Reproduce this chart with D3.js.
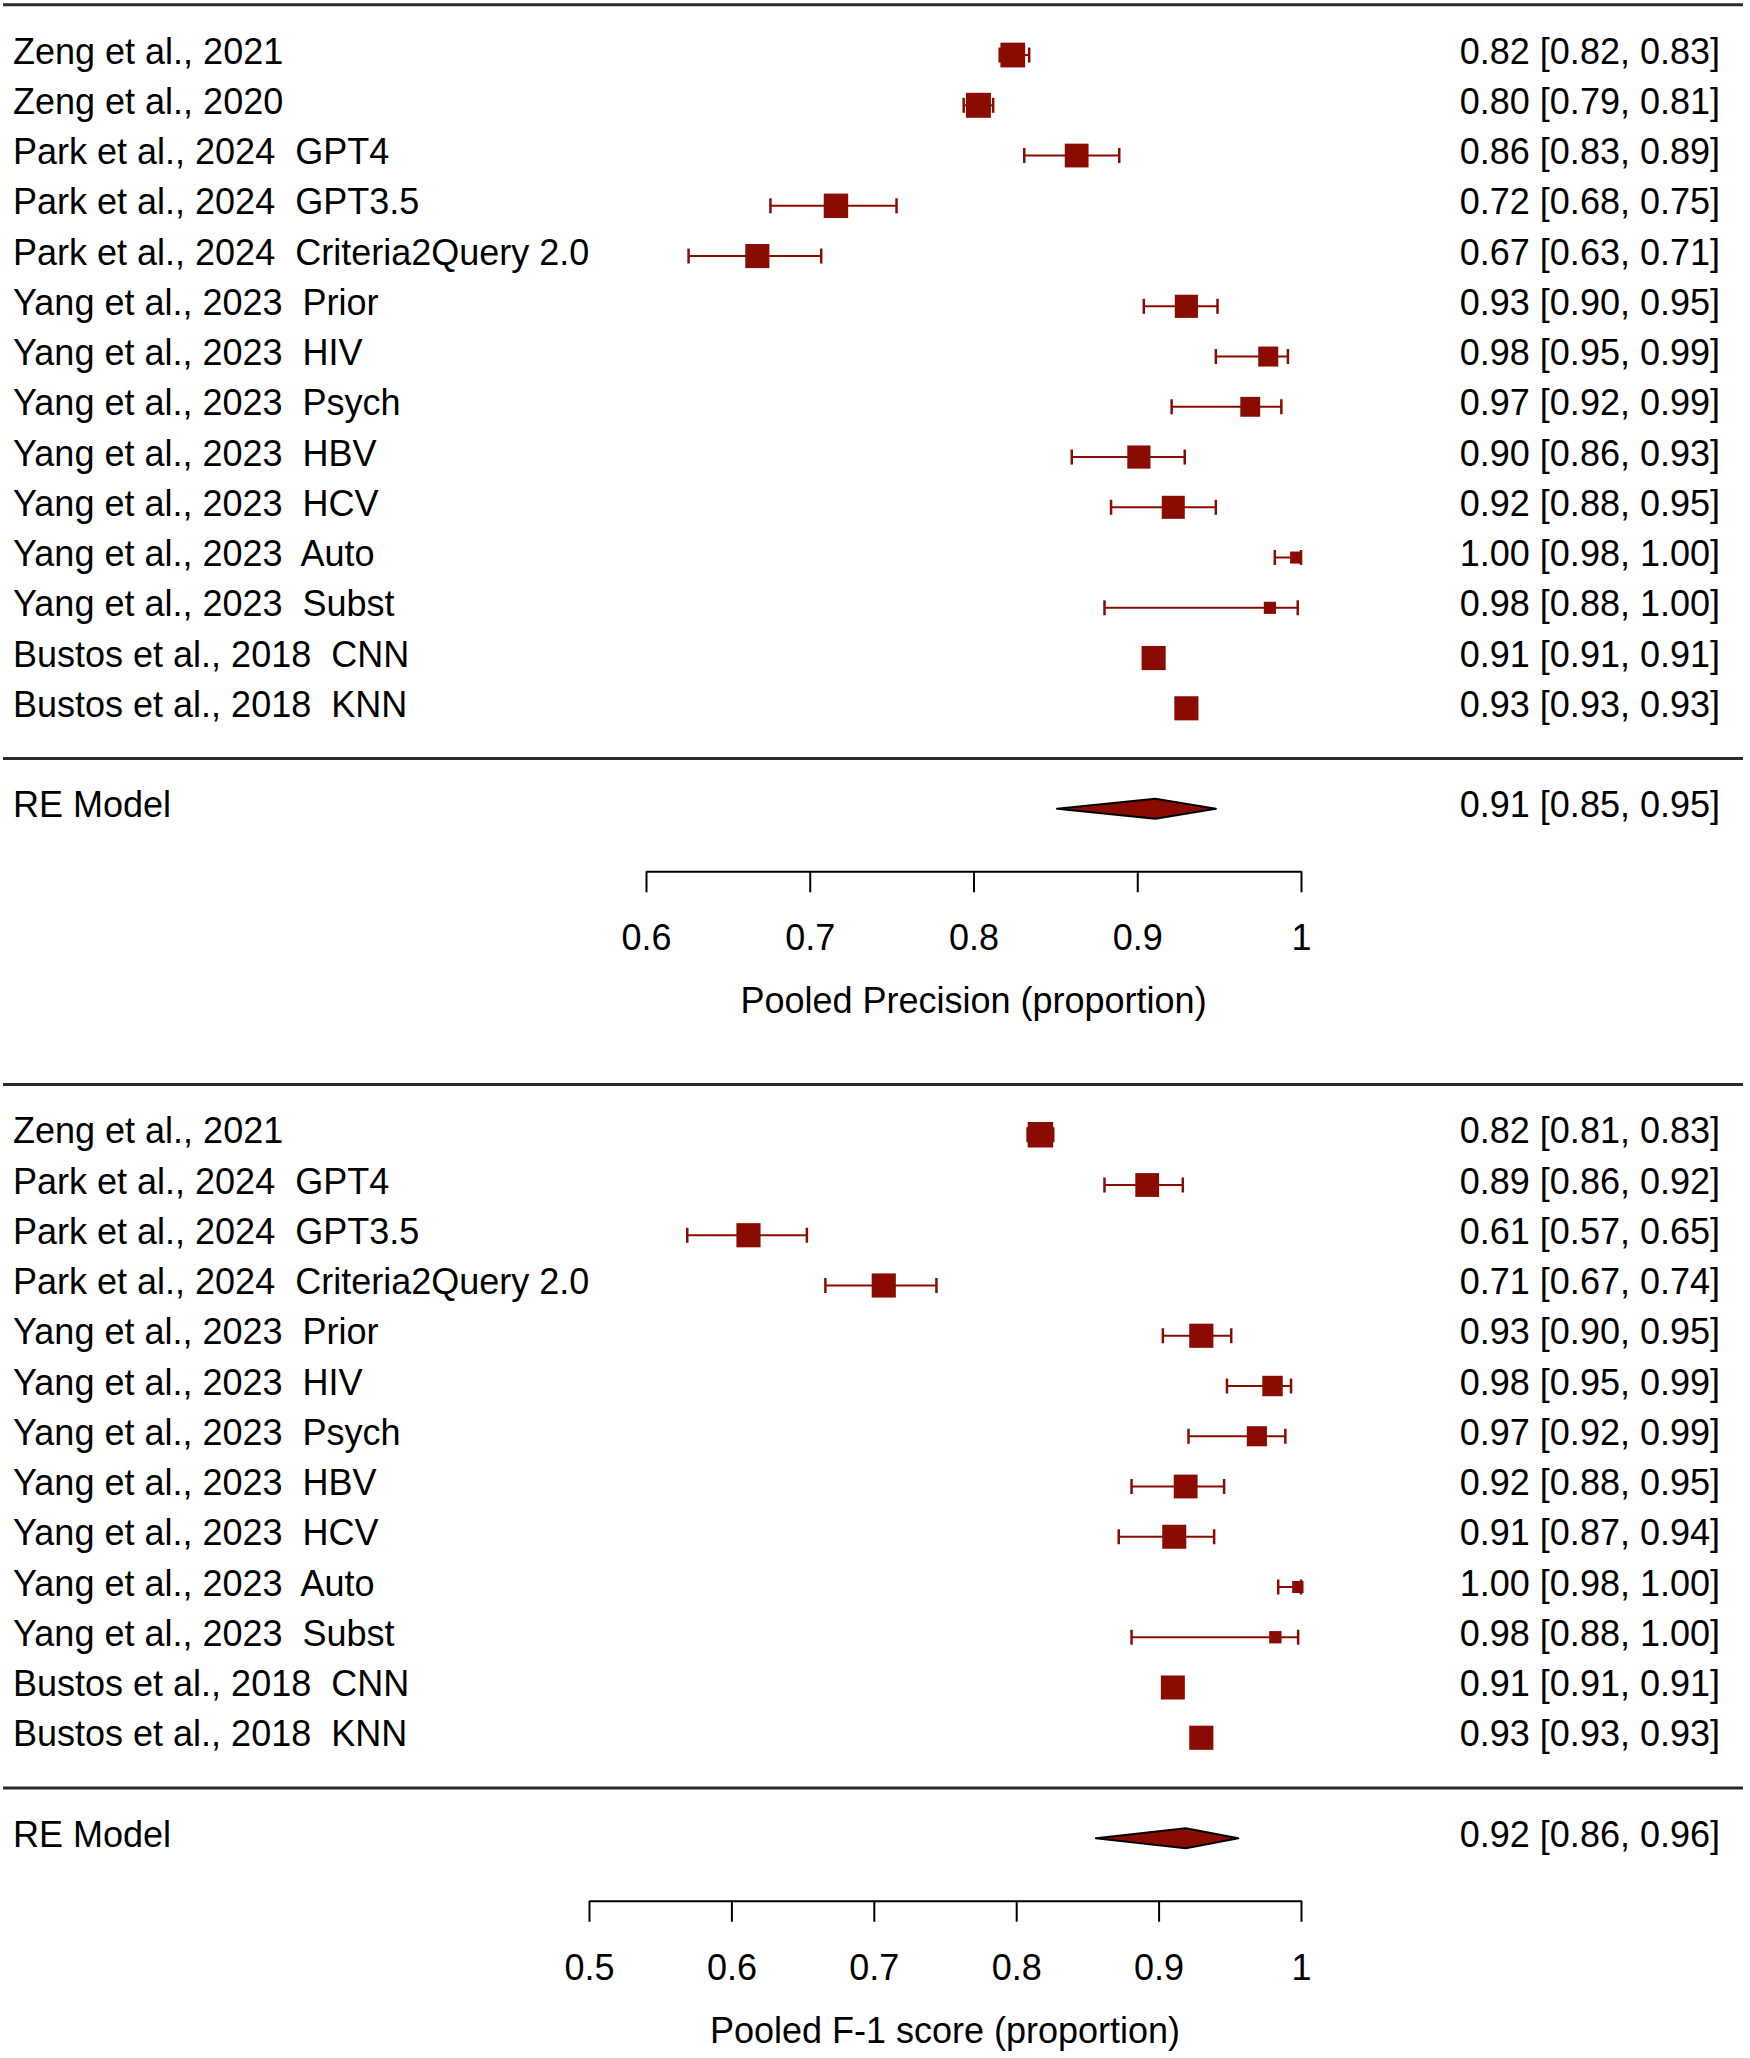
<!DOCTYPE html>
<html>
<head>
<meta charset="utf-8">
<script src="https://cdn.jsdelivr.net/npm/d3@7"></script>
<style>
  body { margin: 0; background: #fff; }
  svg text { font-family: "Liberation Sans", Arial, Helvetica, sans-serif; fill: #000; }
</style>
</head>
<body>
<script>
// ---- panel 1: precision ----
var studies1 = ["Zeng et al., 2021", "Zeng et al., 2020", "Park et al., 2024  GPT4", "Park et al., 2024  GPT3.5",
    "Park et al., 2024  Criteria2Query 2.0", "Yang et al., 2023  Prior", "Yang et al., 2023  HIV",
    "Yang et al., 2023  Psych", "Yang et al., 2023  HBV", "Yang et al., 2023  HCV", "Yang et al., 2023  Auto",
    "Yang et al., 2023  Subst", "Bustos et al., 2018  CNN", "Bustos et al., 2018  KNN"];
var est1 = [0.824, 0.803, 0.863, 0.716, 0.668, 0.930, 0.980, 0.969, 0.901, 0.922, 0.997, 0.981, 0.910, 0.930];
var lo1  = [0.816, 0.794, 0.831, 0.676, 0.626, 0.904, 0.948, 0.921, 0.860, 0.884, 0.984, 0.880, 0.907, 0.927];
var hi1  = [0.834, 0.812, 0.889, 0.753, 0.707, 0.949, 0.992, 0.988, 0.929, 0.948, 1.000, 0.998, 0.913, 0.933];
var weights1 = [7.55, 7.59, 7.40, 7.50, 7.45, 7.30, 6.80, 6.78, 7.30, 7.28, 5.53, 5.55, 7.45, 7.45];
var pooled1 = {est: 0.911, lo: 0.851, hi: 0.948};
var ticks1 = [0.6, 0.7, 0.8, 0.9, 1];
var xlabel1 = "Pooled Precision (proportion)";

// ---- panel 2: F-1 score ----
var studies2 = ["Zeng et al., 2021", "Park et al., 2024  GPT4", "Park et al., 2024  GPT3.5",
    "Park et al., 2024  Criteria2Query 2.0", "Yang et al., 2023  Prior", "Yang et al., 2023  HIV",
    "Yang et al., 2023  Psych", "Yang et al., 2023  HBV", "Yang et al., 2023  HCV", "Yang et al., 2023  Auto",
    "Yang et al., 2023  Subst", "Bustos et al., 2018  CNN", "Bustos et al., 2018  KNN"];
var est2 = [0.817, 0.892, 0.612, 0.707, 0.930, 0.980, 0.969, 0.919, 0.911, 0.998, 0.982, 0.910, 0.930];
var lo2  = [0.808, 0.862, 0.569, 0.666, 0.903, 0.948, 0.921, 0.881, 0.872, 0.984, 0.881, 0.907, 0.927];
var hi2  = [0.826, 0.917, 0.653, 0.744, 0.951, 0.993, 0.989, 0.946, 0.939, 1.000, 0.998, 0.913, 0.933];
var weights2 = [8.20, 7.95, 8.00, 8.00, 8.00, 7.45, 7.40, 7.95, 7.98, 6.20, 6.25, 7.98, 8.00];
var pooled2 = {est: 0.919, lo: 0.856, hi: 0.956};
var ticks2 = [0.5, 0.6, 0.7, 0.8, 0.9, 1];
var xlabel2 = "Pooled F-1 score (proportion)";

var W = 1750, H = 2058;
var red = "#8a0c00";
var fs = 36;
var rowH = 50.25;
var fmt = d3.format(".2f");

var svg = d3.select("body").append("svg")
    .attr("width", W)
    .attr("height", H);

var panelId = 0;

function forest(opts) {
    panelId++;
    var k = opts.studies.length;
    var g = svg.append("g");

    var x = d3.scaleLinear().domain([opts.ticks[0], opts.ticks[opts.ticks.length - 1]]).range(opts.xRange);
    // rows: k at top ... 1, separator at 0, pooled row at -1
    var y = d3.scaleLinear().domain([k + 1, 0]).range([opts.top, opts.top + (k + 1) * rowH]);
    var size = d3.scaleLinear().domain(d3.extent(opts.weights)).range(opts.sizeRange);

    var rows = opts.studies.map(function(s, i) {
        return {name: s, est: opts.est[i], lo: opts.lo[i], hi: opts.hi[i], w: opts.weights[i], row: k - i};
    });

    // horizontal rules
    [k + 1, 0].forEach(function(r) {
        g.append("line")
            .attr("x1", 3).attr("x2", 1743)
            .attr("y1", y(r)).attr("y2", y(r))
            .attr("stroke", "#2b2b2b")
            .attr("stroke-width", 3);
    });

    g.append("clipPath").attr("id", "clip" + panelId)
        .append("rect")
        .attr("x", 0).attr("y", 0)
        .attr("width", x.range()[1] + 2.5)
        .attr("height", H);

    var marks = g.append("g").attr("clip-path", "url(#clip" + panelId + ")");

    var study = marks.selectAll("g.study")
        .data(rows)
        .enter().append("g")
        .attr("class", "study");

    study.append("line")
        .attr("x1", function(d) { return x(d.lo); })
        .attr("x2", function(d) { return x(d.hi); })
        .attr("y1", function(d) { return y(d.row); })
        .attr("y2", function(d) { return y(d.row); })
        .attr("stroke", red)
        .attr("stroke-width", 2);

    ["lo", "hi"].forEach(function(key) {
        study.append("line")
            .attr("x1", function(d) { return x(d[key]); })
            .attr("x2", function(d) { return x(d[key]); })
            .attr("y1", function(d) { return y(d.row) - 7.5; })
            .attr("y2", function(d) { return y(d.row) + 7.5; })
            .attr("stroke", red)
            .attr("stroke-width", 2.5);
    });

    study.append("rect")
        .attr("x", function(d) { return x(d.est) - size(d.w) / 2; })
        .attr("y", function(d) { return y(d.row) - size(d.w) / 2; })
        .attr("width", function(d) { return size(d.w); })
        .attr("height", function(d) { return size(d.w); })
        .attr("fill", red);

    // study labels and estimates
    g.selectAll("text.lab")
        .data(rows)
        .enter().append("text")
        .attr("class", "lab")
        .attr("x", 13)
        .attr("y", function(d) { return y(d.row) + 8.5; })
        .attr("xml:space", "preserve")
        .style("white-space", "pre")
        .style("font-size", fs + "px")
        .text(function(d) { return d.name; });

    g.selectAll("text.ci")
        .data(rows)
        .enter().append("text")
        .attr("class", "ci")
        .attr("x", 1720)
        .attr("y", function(d) { return y(d.row) + 8.5; })
        .attr("text-anchor", "end")
        .style("font-size", fs + "px")
        .text(function(d) { return fmt(d.est) + " [" + fmt(d.lo) + ", " + fmt(d.hi) + "]"; });

    // pooled estimate
    var p = opts.pooled, py = y(-1);
    g.append("text")
        .attr("x", 13)
        .attr("y", py + 8.5)
        .style("font-size", fs + "px")
        .text("RE Model");

    g.append("polygon")
        .attr("points", [[x(p.lo), py], [x(p.est), py - 10], [x(p.hi), py], [x(p.est), py + 10]].join(" "))
        .attr("fill", red)
        .attr("stroke", "#000")
        .attr("stroke-width", 2)
        .attr("stroke-linejoin", "round");

    g.append("text")
        .attr("x", 1720)
        .attr("y", py + 8.5)
        .attr("text-anchor", "end")
        .style("font-size", fs + "px")
        .text(fmt(p.est) + " [" + fmt(p.lo) + ", " + fmt(p.hi) + "]");

    // x axis
    var axisY = py + 62.5;
    var ax = g.append("g")
        .attr("transform", "translate(0," + axisY + ")")
        .call(d3.axisBottom(x)
            .tickValues(opts.ticks)
            .tickSize(21)
            .tickSizeOuter(0)
            .tickFormat(function(d) { return String(d); }));

    ax.select(".domain").attr("stroke", "#000").attr("stroke-width", 2);
    ax.selectAll(".tick line").attr("stroke", "#000").attr("stroke-width", 2);
    ax.selectAll(".tick text")
        .attr("y", 79)
        .attr("dy", null)
        .attr("fill", "#000")
        .style("font-size", fs + "px")
        .style("font-family", "'Liberation Sans', Arial, sans-serif");

    g.append("text")
        .attr("x", (x.range()[0] + x.range()[1]) / 2)
        .attr("y", axisY + 142)
        .attr("text-anchor", "middle")
        .style("font-size", fs + "px")
        .text(opts.xlabel);
}

forest({studies: studies1, est: est1, lo: lo1, hi: hi1, weights: weights1, pooled: pooled1,
    ticks: ticks1, xlabel: xlabel1, xRange: [646, 1301], top: 4.8, sizeRange: [12, 25]});

forest({studies: studies2, est: est2, lo: lo2, hi: hi2, weights: weights2, pooled: pooled2,
    ticks: ticks2, xlabel: xlabel2, xRange: [589, 1301], top: 1084.5, sizeRange: [12, 25.5]});
</script>
</body>
</html>
